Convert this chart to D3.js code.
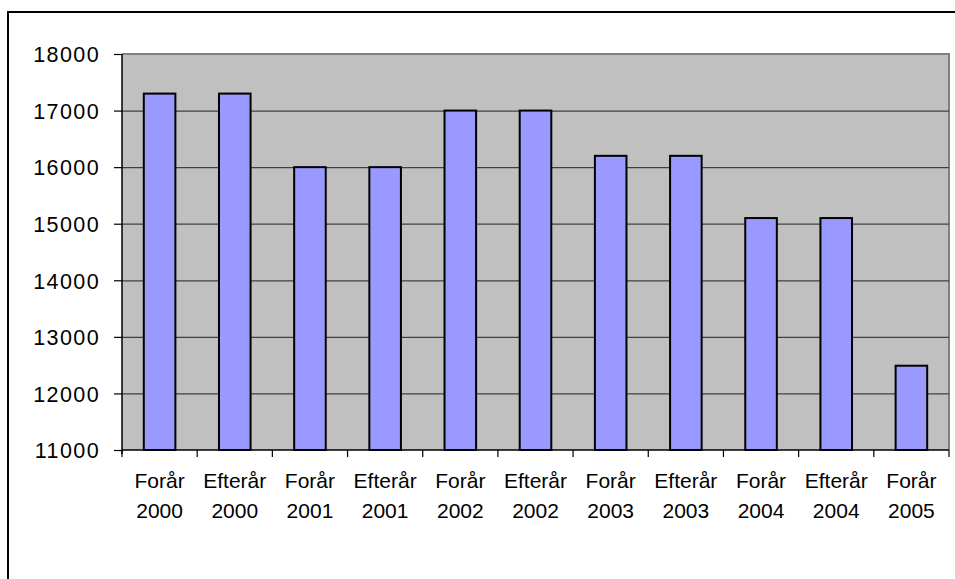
<!DOCTYPE html>
<html>
<head>
<meta charset="utf-8">
<script src="https://cdn.jsdelivr.net/npm/d3@7"></script>
<style>
  body { margin: 0; background: #fff; }
  text { font-family: Arial, "Liberation Sans", sans-serif; fill: #000; }
</style>
</head>
<body>
<div id="chart"></div>
<script>
const categories = ["Forår 2000", "Efterår 2000", "Forår 2001", "Efterår 2001", "Forår 2002",
  "Efterår 2002", "Forår 2003", "Efterår 2003", "Forår 2004", "Efterår 2004", "Forår 2005"];
const values = [17300, 17300, 16000, 16000, 17000, 17000, 16200, 16200, 15100, 15100, 12490];
const yTicks = [11000, 12000, 13000, 14000, 15000, 16000, 17000, 18000];

const width = 955;
const height = 579;
const plot = { left: 122, top: 54, right: 949, bottom: 450 };

const svg = d3.select("#chart")
  .append("svg")
  .attr("width", width)
  .attr("height", height)

// chart area border (right/bottom run off the picture)
svg.append("rect")
  .attr("x", 8).attr("y", 12)
  .attr("width", 970).attr("height", 600)
  .attr("fill", "#fff")
  .attr("stroke", "#000")
  .attr("stroke-width", 2)

const x = d3.scaleBand()
  .domain(categories)
  .range([plot.left, plot.right])

const y = d3.scaleLinear()
  .domain([11000, 18000])
  .range([plot.bottom, plot.top])

// plot background
svg.append("rect")
  .attr("x", plot.left).attr("y", plot.top)
  .attr("width", plot.right - plot.left)
  .attr("height", plot.bottom - plot.top)
  .attr("fill", "#c0c0c0")

// top and right border of plot area
svg.append("path")
  .attr("d", `M${plot.left},${plot.top}H${plot.right}V${plot.bottom}`)
  .attr("fill", "none")
  .attr("stroke", "#808080")
  .attr("stroke-width", 2)

// gridlines
svg.append("g")
  .attr("transform", `translate(${plot.left},0)`)
  .call(d3.axisLeft(y).tickValues(yTicks.slice(1, -1)).tickSize(-(plot.right - plot.left)).tickFormat(""))
  .call(g => g.select(".domain").remove())
  .call(g => g.selectAll("line").attr("stroke", "#404040").attr("stroke-width", 1.2))

// bars
const bw = x.bandwidth() * 0.42;
svg.selectAll(".bar")
  .data(values)
  .enter()
  .append("rect")
  .attr("class", "bar")
  .attr("x", (d, i) => x(categories[i]) + (x.bandwidth() - bw) / 2)
  .attr("y", d => y(d))
  .attr("width", bw)
  .attr("height", d => y(11000) - y(d))
  .attr("fill", "#9999ff")
  .attr("stroke", "#000")
  .attr("stroke-width", 2)

// y axis
const yAxis = svg.append("g")
  .attr("transform", `translate(${plot.left},0)`)
  .call(d3.axisLeft(y).tickValues(yTicks).tickSize(8).tickPadding(14).tickFormat(d3.format("d")))
yAxis.select(".domain").attr("stroke", "#000").attr("stroke-width", 1.5)
  .attr("d", `M0,${plot.top}V${plot.bottom + 4}`)
yAxis.selectAll("line").attr("stroke", "#000").attr("stroke-width", 1.2)
yAxis.selectAll("text")
  .attr("font-size", 21.5)
  .attr("letter-spacing", "1.4px")
  .attr("dy", "0.36em")
  .style("font-family", "Arial, 'Liberation Sans', sans-serif")

// x axis: line + ticks at band edges
const xAxis = svg.append("g")
xAxis.append("line")
  .attr("x1", plot.left).attr("x2", plot.right)
  .attr("y1", plot.bottom).attr("y2", plot.bottom)
  .attr("stroke", "#000").attr("stroke-width", 1.5)
xAxis.selectAll(".xtick")
  .data(categories.concat([null]))
  .enter()
  .append("line")
  .attr("class", "xtick")
  .attr("x1", (d, i) => plot.left + i * x.step())
  .attr("x2", (d, i) => plot.left + i * x.step())
  .attr("y1", plot.bottom)
  .attr("y2", plot.bottom + 7)
  .attr("stroke", "#000").attr("stroke-width", 1.2)

const labels = xAxis.selectAll(".xlabel")
  .data(categories)
  .enter()
  .append("text")
  .attr("class", "xlabel")
  .attr("text-anchor", "middle")
  .attr("font-size", 21)
labels.selectAll("tspan")
  .data(d => d.split(" "))
  .enter()
  .append("tspan")
  .attr("x", function () { return x(d3.select(this.parentNode).datum()) + x.bandwidth() / 2 })
  .attr("y", (d, i) => 488 + i * 30)
  .text(d => d)
</script>
</body>
</html>
